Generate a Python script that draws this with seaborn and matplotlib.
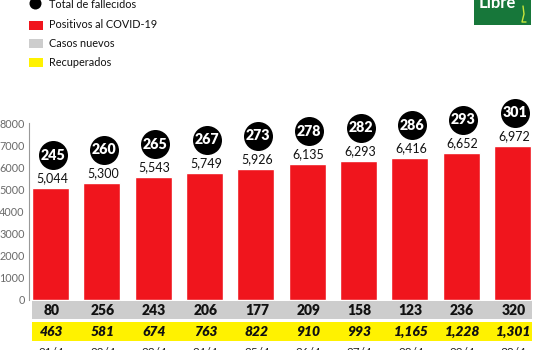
import matplotlib
matplotlib.use("Agg")
import matplotlib.pyplot as plt
from matplotlib.patches import Rectangle
import seaborn as sns

dates = ["21/4", "22/4", "23/4", "24/4", "25/4", "26/4", "27/4", "28/4", "29/4", "30/4"]
positivos = [5044, 5300, 5543, 5749, 5926, 6135, 6293, 6416, 6652, 6972]
fallecidos = [245, 260, 265, 267, 273, 278, 282, 286, 293, 301]
nuevos = [80, 256, 243, 206, 177, 209, 158, 123, 236, 320]
recuperados = [463, 581, 674, 763, 822, 910, 993, 1165, 1228, 1301]

RED = "#F0151D"
GREY = "#CDCDCD"
YELLOW = "#FFF200"
GREEN = "#17773A"

sns.set_style("white")
plt.rcParams["font.family"] = ["Lato", "DejaVu Sans"]

W, H = 546, 350
fig = plt.figure(figsize=(W / 100, H / 100), dpi=100)

# axes spans from the y-axis spine to the right edge, full height
ax = fig.add_axes([29 / W, 0, 1 - 29 / W, 1])
sns.barplot(x=dates, y=positivos, color=RED, saturation=1, width=0.72, ax=ax)

ppk = 22.125  # pixels per 1000 units
ax.set_ylim(-50 / ppk * 1000, 300 / ppk * 1000)
step = 51.33
ax.set_xlim((29 - 50.5) / step, (546 - 50.5) / step)

def dy(py):
    return (300 - py) / ppk * 1000

sns.despine(ax=ax, top=True, right=True, bottom=True)
ax.spines["left"].set_bounds(0, 8000)
ax.spines["left"].set_color("#999999")
ax.spines["left"].set_linewidth(0.8)
ax.set_yticks(range(0, 8001, 1000))
ax.set_yticklabels([str(v) for v in range(0, 8001, 1000)], fontsize=7.8,
                   color="#6a6a6a")
ax.tick_params(axis="y", length=0, pad=3)
ax.set_xticks([])
ax.set_xlabel("")
ax.set_ylabel("")

# value labels and death-count circles above each bar
for i, (p, f) in enumerate(zip(positivos, fallecidos)):
    ax.text(i + 0.03, p + 10 / ppk * 1000, f"{p:,}", ha="center", va="center",
            fontsize=9, color="#111111")
    cy = p + 33 / ppk * 1000
    ax.scatter([i + 0.04], [cy], s=(29 * 0.72) ** 2, color="black", zorder=5,
               linewidths=0)
    ax.text(i + 0.04, cy, str(f), ha="center", va="center", fontsize=10.3,
            fontweight="heavy", color="white", zorder=6)

# bands for new cases and recoveries
x0 = (32 - 50.5) / step
x1 = (532 - 50.5) / step
ax.add_patch(Rectangle((x0, dy(319)), x1 - x0, dy(301) - dy(319),
                       facecolor=GREY, edgecolor="none", clip_on=False))
ax.add_patch(Rectangle((x0, dy(341)), x1 - x0, dy(322) - dy(341),
                       facecolor=YELLOW, edgecolor="none", clip_on=False))
for i, (n, r, d) in enumerate(zip(nuevos, recuperados, dates)):
    ax.text(i + 0.02, dy(310.5), f"{n:,}", ha="center", va="center",
            fontsize=10, fontweight="heavy", color="#111111")
    ax.text(i + 0.02, dy(331.5), f"{r:,}", ha="center", va="center",
            fontsize=10, fontweight="heavy", style="italic", color="#111111")
    ax.text(i + 0.02, dy(346.5), d, ha="center", va="top",
            fontsize=8.5, color="#222222")

# legend
leg_ax = fig.add_axes([0, 0, 1, 1], facecolor="none")
leg_ax.set_xlim(0, W)
leg_ax.set_ylim(H, 0)
leg_ax.axis("off")
leg_ax.scatter([35], [3], s=(12 * 0.72) ** 2, color="black", linewidths=0)
for yy, col in [(25, RED), (43.5, GREY), (62.5, YELLOW)]:
    leg_ax.add_patch(Rectangle((29, yy - 4.5), 14, 9, facecolor=col, edgecolor="none"))
for yy, label in [(4, "Total de fallecidos"), (25, "Positivos al COVID-19"),
                  (43.5, "Casos nuevos"), (62.5, "Recuperados")]:
    leg_ax.text(49, yy, label, ha="left", va="center", fontsize=7.8, color="#111111")

# publisher mark
leg_ax.add_patch(Rectangle((474, -2), 57, 27, facecolor=GREEN, edgecolor="none"))
leg_ax.text(497, 3, "Libre", ha="center", va="center", fontsize=12,
            fontweight="bold", color="white")
leg_ax.plot([523, 524, 522, 526], [6, 14, 22, 22], color="#C8E63C", lw=1)

fig.savefig("out.png", dpi=100)
